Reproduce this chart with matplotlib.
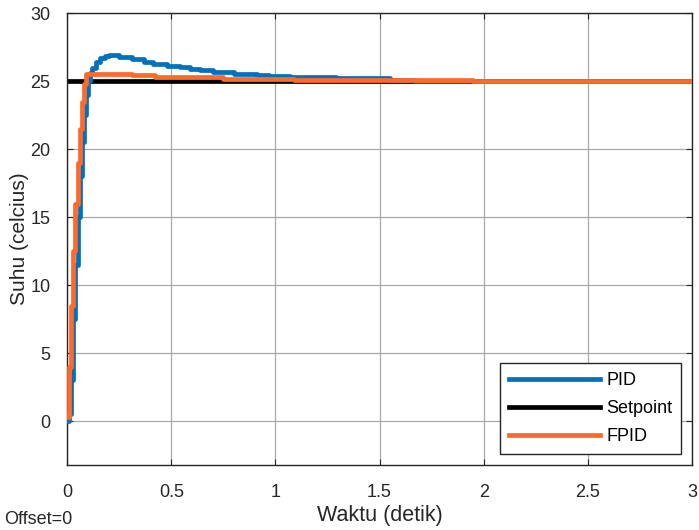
import numpy as np
import matplotlib.pyplot as plt

plt.rcParams['font.family'] = ['Liberation Sans', 'DejaVu Sans']

# Simulink scope traces (sample-and-hold, so drawn as steps)
t_pid = [0, 0.01, 0.02, 0.03, 0.04, 0.05, 0.06, 0.07, 0.08, 0.09, 0.10, 0.11,
         0.12, 0.14, 0.16, 0.18, 0.20, 0.25, 0.31, 0.37, 0.41, 0.48, 0.54, 0.59,
         0.64, 0.70, 0.80, 0.91, 0.97, 1.07, 1.29, 1.55, 1.67, 3.0]
y_pid = [0, 0.5, 3, 7.5, 11.5, 15, 18, 20.5, 22.5, 24, 25.0, 25.6,
         26.0, 26.4, 26.7, 26.85, 26.95, 26.8, 26.6, 26.45, 26.3, 26.15, 26.03, 25.9,
         25.8, 25.66, 25.54, 25.45, 25.38, 25.3, 25.22, 25.12, 25.0, 25.0]

t_fpid = [0, 0.01, 0.02, 0.03, 0.04, 0.05, 0.06, 0.07, 0.08, 0.09,
          0.31, 0.42, 0.75, 1.09, 1.53, 1.95, 3.0]
y_fpid = [0.3, 4, 8.5, 12.5, 16, 19, 21.5, 23.5, 24.8, 25.55,
          25.45, 25.3, 25.15, 25.1, 25.06, 25.0, 25.0]

t_sp = [0, 3.0]
y_sp = [25, 25]

fig = plt.figure(figsize=(6.99, 5.30), dpi=100)
ax = fig.add_axes([0.096, 0.123, 0.894, 0.852])

ax.plot(t_pid, y_pid, drawstyle='steps-post', color='#0072bd', lw=3.4, label='PID', zorder=3)
ax.plot(t_sp, y_sp, color='black', lw=3.4, label='Setpoint', zorder=2)
ax.plot(t_fpid, y_fpid, drawstyle='steps-post', color='#ff6929', lw=3.4, label='FPID', zorder=4)

ax.set_xlim(0, 3)
ax.set_ylim(-3.2, 30)
ax.set_xticks(np.arange(0, 3.01, 0.5))
ax.set_xticklabels(['0', '0.5', '1', '1.5', '2', '2.5', '3'])
ax.set_yticks(np.arange(0, 31, 5))
ax.grid(True, color='#a8a8a8', lw=0.9)
ax.set_axisbelow(True)
ax.tick_params(direction='in', top=True, right=True, labelsize=13, colors='#262626',
               length=4)
ax.tick_params(axis='x', pad=14)
ax.tick_params(axis='y', pad=12)
for s in ax.spines.values():
    s.set_color('#262626')
    s.set_linewidth(1.0)

ax.set_xlabel('Waktu (detik)', fontsize=15.5, color='#262626', labelpad=3)
ax.set_ylabel('Suhu (celcius)', fontsize=15, color='#262626', labelpad=1)

leg = ax.legend(loc='lower right', fontsize=13, handlelength=5.0, fancybox=False,
                framealpha=1, edgecolor='#262626', borderaxespad=0.6, labelspacing=0.6,
                handletextpad=0.35, borderpad=0.5)
leg.get_frame().set_linewidth(1.0)

fig.text(0.006, 0.012, 'Offset=0', fontsize=13, color='#262626')

fig.savefig('out.png', dpi=100)
